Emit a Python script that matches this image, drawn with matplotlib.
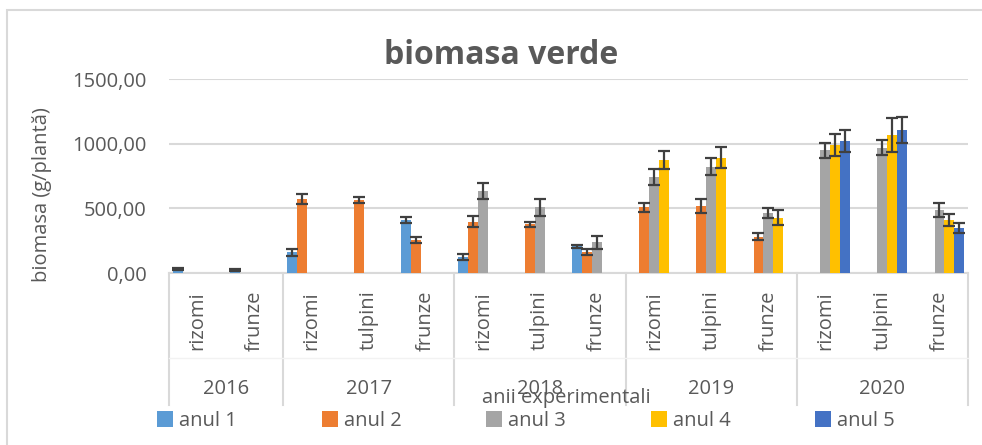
import numpy as np
import matplotlib.pyplot as plt
from matplotlib.patches import Rectangle, Patch
from matplotlib.lines import Line2D

nan = np.nan

# categorii (an experimental / organ)
years = ['2016', '2017', '2018', '2019', '2020']
year_sizes = [2, 3, 3, 3, 3]
parts = ['rizomi', 'frunze',
         'rizomi', 'tulpini', 'frunze',
         'rizomi', 'tulpini', 'frunze',
         'rizomi', 'tulpini', 'frunze',
         'rizomi', 'tulpini', 'frunze']

series_names = ['anul 1', 'anul 2', 'anul 3', 'anul 4', 'anul 5']

anul1 = [28, 22, 160, nan, 410, 126, nan, 205, nan, nan, nan, nan, nan, nan]
anul2 = [nan, nan, 572, 564, 255, 397, 376, 165, 508, 518, 281, nan, nan, nan]
anul3 = [nan, nan, nan, nan, nan, 634, 508, 237, 740, 822, 461, 951, 969, 487]
anul4 = [nan, nan, nan, nan, nan, nan, nan, nan, 873, 891, 428, 990, 1067, 410]
anul5 = [nan, nan, nan, nan, nan, nan, nan, nan, nan, nan, nan, 1020, 1105, 350]

err1 = [8, 8, 25, nan, 23, 23, nan, 8, nan, nan, nan, nan, nan, nan]
err2 = [nan, nan, 40, 20, 25, 40, 17, 22, 35, 54, 28, nan, nan, nan]
err3 = [nan, nan, nan, nan, nan, 64, 66, 49, 63, 64, 39, 58, 59, 57]
err4 = [nan, nan, nan, nan, nan, nan, nan, nan, 68, 82, 59, 86, 128, 48]
err5 = [nan, nan, nan, nan, nan, nan, nan, nan, nan, nan, nan, 85, 103, 39]

colors = ['#5B9BD5', '#ED7D31', '#A5A5A5', '#FFC000', '#4472C4']
txt = '#595959'
gridc = '#D9D9D9'
fs = 14.5

plt.rcParams['font.family'] = ['Open Sans', 'DejaVu Sans']

W, H = 982, 445
fig = plt.figure(figsize=(W / 100, H / 100), dpi=100)
fig.patches.append(Rectangle((7 / W, -0.1), 1.2, 1 - 10 / H + 0.1, transform=fig.transFigure,
                             fill=False, edgecolor=gridc, linewidth=1.5))

x0, x1, y0, y1 = 169, 968, 273, 79
ax = fig.add_axes([x0 / W, 1 - y0 / H, (x1 - x0) / W, (y0 - y1) / H])

x = np.arange(len(parts))
w = 0.172
vals = [anul1, anul2, anul3, anul4, anul5]
errs = [err1, err2, err3, err4, err5]
for i in range(5):
    v = np.array(vals[i], dtype=float)
    e = np.array(errs[i], dtype=float)
    pos = x + (i - 2) * w
    m = ~np.isnan(v)
    ax.bar(pos[m], v[m], width=w, color=colors[i], zorder=3)
    ax.errorbar(pos[m], v[m], yerr=e[m], fmt='none', ecolor='#404040',
                elinewidth=1.6, capsize=4, capthick=1.6, zorder=4)

ax.set_xlim(-0.5, len(parts) - 0.5)
ax.set_ylim(0, 1500)
ax.set_yticks([0, 500, 1000, 1500])
ax.set_yticklabels(['0,00', '500,00', '1000,00', '1500,00'])
ax.tick_params(axis='y', length=0, pad=16, labelsize=fs, labelcolor=txt)
ax.set_xticks([])
ax.grid(axis='y', color=gridc, linewidth=1.5, zorder=0)
for s in ['left', 'right', 'top']:
    ax.spines[s].set_visible(False)
ax.spines['bottom'].set_color(gridc)
ax.spines['bottom'].set_linewidth(1.5)

# axa de categorii pe doua niveluri
tr = ax.get_xaxis_transform()
for xi, p in zip(x, parts):
    ax.text(xi, -0.245, p, rotation=90, ha='center', va='center', fontsize=fs,
            color=txt, transform=tr)
edges = np.concatenate([[0], np.cumsum(year_sizes)]) - 0.5
for e in edges:
    ax.add_line(Line2D([e, e], [0, -0.68], transform=tr, color=gridc, linewidth=1.5, clip_on=False))
ax.add_line(Line2D([edges[0], edges[-1]], [-0.438, -0.438], transform=tr, color='#F2F2F2',
                   linewidth=1, clip_on=False))
for k, yr in enumerate(years):
    ax.text((edges[k] + edges[k + 1]) / 2, -0.6, yr, ha='center', va='center',
            fontsize=fs, color=txt, transform=tr)

fig.text(566 / W, 1 - 398 / H, 'anii experimentali', ha='center', va='center',
         fontsize=fs, color=txt)
fig.text(42 / W, 1 - 195 / H, 'biomasa (g/plantă)', rotation=90, ha='center', va='center',
         fontsize=fs, color=txt)
fig.text(501 / W, 1 - 55 / H, 'biomasa verde', ha='center', va='center',
         fontsize=23, fontweight='bold', color=txt)

handles = [Patch(facecolor=c, edgecolor='none') for c in colors]
fig.legend(handles, series_names, loc='center', bbox_to_anchor=(526 / W, 1 - 421 / H),
           ncol=5, frameon=False, fontsize=fs, labelcolor=txt, handlelength=0.8,
           handleheight=0.8, handletextpad=0.3, columnspacing=4.2)

fig.savefig('out.png', dpi=100)
